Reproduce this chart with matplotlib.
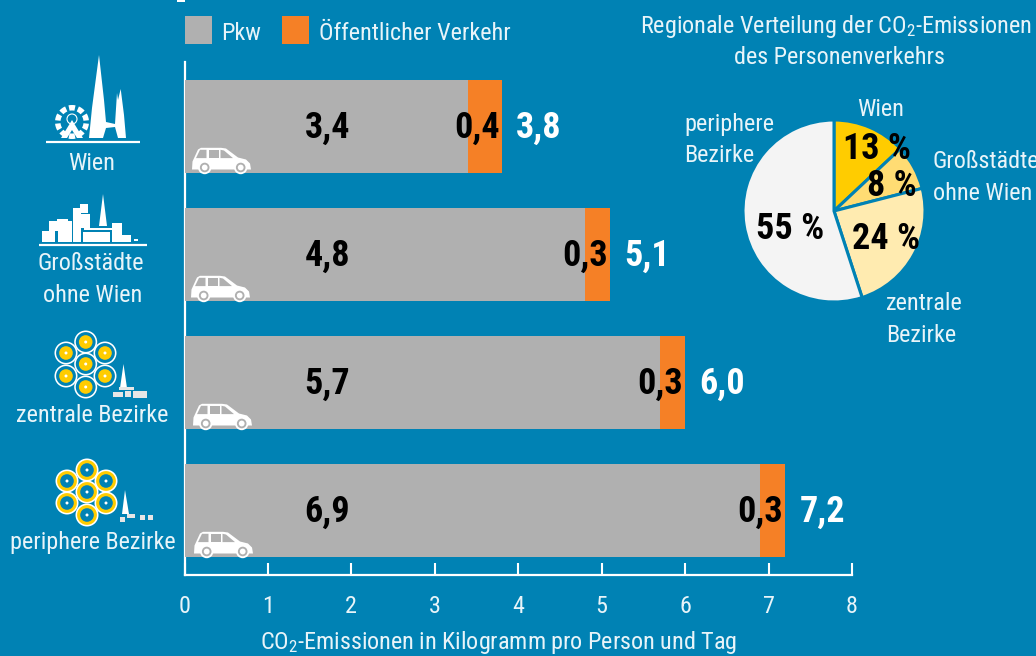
import matplotlib
matplotlib.use('Agg')
import matplotlib.pyplot as plt
from matplotlib.patches import Rectangle, Circle, Polygon, Wedge
import numpy as np

plt.rcParams['font.family'] = ['Roboto Condensed', 'Liberation Sans', 'DejaVu Sans']
plt.rcParams['mathtext.default'] = 'regular'

regions = ['Wien', 'Großstädte\nohne Wien', 'zentrale Bezirke', 'periphere Bezirke']
pkw = [3.4, 4.8, 5.7, 6.9]
oev = [0.4, 0.3, 0.3, 0.3]
totals = [3.8, 5.1, 6.0, 7.2]
pie_names = ['Wien', 'Großstädte\nohne Wien', 'zentrale\nBezirke', 'periphere\nBezirke']
pie_share = [13, 8, 24, 55]
xticks = [0, 1, 2, 3, 4, 5, 6, 7, 8]

BG = '#0082B4'
GREY = '#B0B0B0'
ORANGE = '#F58026'
YEL = '#FFCC00'
TXT = '#E8F4F9'
W = 1036
H = 656
LAB = 17.4
NUM = 26

fig = plt.figure(figsize=(W / 100, H / 100), dpi=100, facecolor=BG)

# main bars, y axis runs in pixels so the rows sit where they should
ax = fig.add_axes([184.5 / W, (H - 574.5) / H, (852 - 184.5) / W, (574.5 - 62) / H])
ax.set_facecolor('none')
ax.set_xlim(0, 8)
ax.set_ylim(574.5, 62)
row_y = [126.5, 254.5, 382.5, 510.5]
ax.barh(row_y, pkw, height=93, color=GREY, zorder=3)
ax.barh(row_y, oev, left=pkw, height=93, color=ORANGE, zorder=3)
for s in ['top', 'right']:
    ax.spines[s].set_visible(False)
for s in ['left', 'bottom']:
    ax.spines[s].set_color('white')
    ax.spines[s].set_linewidth(1.6)
ax.set_yticks([])
ax.set_xticks(xticks)
ax.tick_params(axis='x', direction='in', length=9, width=1.5, color='white',
               labelcolor=TXT, labelsize=LAB, pad=15)
ax.set_xlabel('CO$_2$-Emissionen in Kilogramm pro Person und Tag', color=TXT, fontsize=LAB, va='center')
ax.xaxis.set_label_coords((499 - 184.5) / (852 - 184.5), (574.5 - 643) / (574.5 - 62))

px = 8 / (852 - 184.5)
for y, a, b, t in zip(row_y, pkw, oev, totals):
    ax.text(1.71, y + 1, f'{a:.1f}'.replace('.', ','), ha='center', va='center', fontsize=NUM, fontweight='bold', color='black', zorder=4)
    ax.text(t - 2 * px, y + 1, f'{b:.1f}'.replace('.', ','), ha='right', va='center', fontsize=NUM, fontweight='bold', color='black', zorder=4)
    ax.text(t + 14.5 * px, y + 1, f'{t:.1f}'.replace('.', ','), ha='left', va='center', fontsize=NUM, fontweight='bold', color='white', zorder=4)

# overlay in pixel coordinates for icons and loose labels
ov = fig.add_axes([0, 0, 1, 1], zorder=5)
ov.set_xlim(0, W)
ov.set_ylim(H, 0)
ov.axis('off')


def car(x, y):
    body = [(0, 22), (0.5, 14), (6, 2), (9, 0.3), (29, 0.3), (34, 1), (46, 10), (54, 12), (58, 16), (59, 22)]
    ov.add_patch(Polygon([(x + a, y + b) for a, b in body], fc='white', ec='none'))
    for win in ([(4, 10.6), (8, 2.3), (14.5, 2.3), (14.5, 10.6)], [(16.5, 2.3), (26.5, 2.3), (26.5, 10.6), (16.5, 10.6)], [(28.5, 2.3), (32, 3), (41, 10.6), (28.5, 10.6)]):
        ov.add_patch(Polygon([(x + a, y + b) for a, b in win], fc=GREY, ec='none'))
    for wx in (12.7, 48.7):
        ov.add_patch(Circle((x + wx, y + 20), 6.7, fc='white', ec='none'))
        ov.add_patch(Circle((x + wx, y + 20), 4.8, fc=GREY, ec='none'))
        ov.add_patch(Circle((x + wx, y + 20), 2.9, fc='white', ec='none'))


def rects(items, color='white'):
    for x0, y0, x1, y1 in items:
        ov.add_patch(Rectangle((x0, y0), x1 - x0, y1 - y0, fc=color, ec='none'))


def rosette(centers, outer, ring):
    for cx, cy in centers:
        ov.add_patch(Circle((cx, cy), 11.5, fc='white', ec='none'))
        ov.add_patch(Circle((cx, cy), 9.9, fc=outer, ec='none'))
        ov.add_patch(Circle((cx, cy), 6.8, fc=ring, ec='none'))
        ov.add_patch(Circle((cx, cy), 1.5, fc='white', ec='none'))


for cx, cy in [(192, 147.5), (191, 275.5), (193, 403.5), (194, 531.5)]:
    car(cx, cy)

# Wien
ov.plot([46, 140], [142, 142], color='white', lw=1.6, solid_capstyle='butt')
ov.add_patch(Polygon([(89, 138), (92, 108), (99, 55), (104, 100), (106, 122), (115, 124), (117, 93), (118, 100),
                      (120.7, 89), (124, 115), (126, 138), (118, 138), (115, 127), (106, 128), (103, 138)],
                     fc='white', ec='none'))
for a in np.arange(0, 360, 36) + 18:
    ov.add_patch(Wedge((72, 122), 17, a - 12, a + 12, width=5.5, fc='white', ec='none'))
ov.add_patch(Circle((72, 119), 5, fc='none', ec='white', lw=0.8))
ov.add_patch(Polygon([(72, 120), (83, 138), (77, 138), (72, 130), (67, 138), (61, 138)], fc='white', ec='none'))

# Großstädte
ov.plot([39, 147], [245, 245], color='white', lw=1.6, solid_capstyle='butt')
rects([(42, 231, 55, 242), (49, 221, 58, 231), (57, 219, 68, 223), (58, 221, 72, 242), (73, 208, 81, 242),
       (80, 204, 88, 213), (80, 214, 90, 228), (83, 232, 110, 242), (84, 228, 112, 230), (112, 223, 122, 242),
       (117, 235, 131, 242), (134, 239, 138, 241)])
ov.add_patch(Polygon([(103, 194), (99, 226), (107, 226)], fc='white', ec='none'))

# Bezirke
rosette([(85.7, 342), (66, 353), (105, 353), (85.7, 364), (66, 376), (105, 376), (85.7, 387)], BG, YEL)
rosette([(87, 470), (67, 481), (106, 481), (87, 492), (67, 503), (106, 503), (87, 515)], YEL, BG)
ov.add_patch(Polygon([(123.5, 364), (120, 388), (127, 388)], fc='white', ec='none'))
rects([(113, 392, 123, 397), (125, 391, 131, 397), (133, 391, 147, 398), (119, 387, 134, 390)], '#E6E6E6')
ov.add_patch(Polygon([(125, 490), (122, 514), (129, 514)], fc='white', ec='none'))
rects([(120, 517, 125, 522), (127, 514, 135, 518), (140, 515, 145, 520), (148, 515, 153, 520)], '#E6E6E6')

ov.text(92, 164, regions[0], color=TXT, fontsize=LAB, ha='center', va='center')
ov.text(91, 264, regions[1].split('\n')[0], color=TXT, fontsize=LAB, ha='center', va='center')
ov.text(93, 296, regions[1].split('\n')[1], color=TXT, fontsize=LAB, ha='center', va='center')
ov.text(92, 416, regions[2], color=TXT, fontsize=LAB, ha='center', va='center')
ov.text(93, 542, regions[3], color=TXT, fontsize=LAB, ha='center', va='center')

# legend
rects([(185, 16, 212, 44)], GREY)
rects([(282, 16, 309, 44)], ORANGE)
rects([(177, 0, 185, 1.5)])
ov.text(221, 33, 'Pkw', color=TXT, fontsize=LAB, va='center')
ov.text(319, 33, 'Öffentlicher Verkehr', color=TXT, fontsize=LAB, va='center')

# pie
pax = fig.add_axes([(834 - 91) / W, (H - 211 - 91) / H, 182 / W, 182 / H], zorder=4)
pax.pie(pie_share, colors=[YEL, '#FFDC73', '#FFEBB0', '#F4F4F4'], startangle=90, counterclock=False,
        radius=1, wedgeprops={'edgecolor': BG, 'linewidth': 2.2})
pax.set_xlim(-1, 1)
pax.set_ylim(-1, 1)

ov.text(836, 26, 'Regionale Verteilung der CO$_2$-Emissionen', color=TXT, fontsize=LAB, ha='center', va='center')
ov.text(839, 57, 'des Personenverkehrs', color=TXT, fontsize=LAB, ha='center', va='center')
for (lx, ly), name, ha in zip([(881, 109), (933, 162), (886, 304), (684, 124)], pie_names, ['center', 'left', 'left', 'left']):
    for i, part in enumerate(name.split('\n')):
        ov.text(lx, ly + i * 31, part, color=TXT, fontsize=LAB, ha=ha, va='center')
for (lx, ly), v in zip([(877, 149), (892, 186), (886, 239), (790, 229)], pie_share):
    ov.text(lx, ly, f'{v} %', color='black', fontsize=NUM, fontweight='bold', ha='center', va='center')

fig.savefig('out.png', dpi=100, facecolor=BG)
